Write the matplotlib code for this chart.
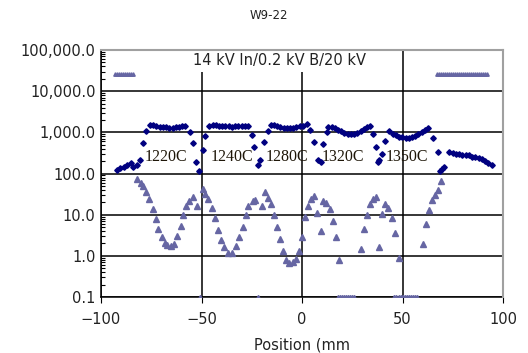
import matplotlib
matplotlib.use("Agg")
import matplotlib.pyplot as plt
from matplotlib.ticker import FixedLocator, FuncFormatter, LogLocator, NullFormatter

# navy series (diamonds)
x_navy = [-91.9, -90.5, -88.6, -87.2, -85.2, -83.9, -82.2, -80.6, -79.0, -77.6,
          -75.6, -74.0, -72.4, -70.8, -69.2, -67.6, -66.0, -64.4, -62.8, -61.2,
          -59.6, -58.0, -55.7, -54.4, -52.7, -51.1, -49.4, -48.3, -46.1, -44.5,
          -42.9, -41.3, -39.7, -38.1, -36.5, -34.9, -33.3, -31.7, -30.1, -28.5,
          -26.9, -25.0, -23.9, -21.7, -20.9, -18.9, -16.8, -15.6, -14.0, -12.4,
          -10.8, -9.2, -7.6, -6.0, -4.4, -2.8, -1.2, 0.4, 2.3, 4.0,
          6.0, 8.1, 9.3, 10.3, 12.3, 13.1, 14.7, 16.3, 17.9, 19.5,
          21.1, 22.7, 24.3, 25.9, 27.5, 29.1, 30.7, 32.3, 33.8, 35.2,
          36.8, 38.0, 38.5, 39.6, 41.3, 43.5, 45.1, 46.7, 48.3, 49.9,
          51.5, 53.1, 54.7, 56.3, 57.9, 59.5, 61.1, 62.7, 65.3, 67.8,
          68.7, 69.5, 70.8, 73.3, 75.0, 76.6, 78.2, 79.8, 81.4, 83.0,
          84.6, 86.2, 87.8, 89.4, 91.0, 92.6, 94.4]
y_navy = [122, 135, 148, 162, 182, 148, 162, 214, 562, 1050,
          1520, 1470, 1420, 1380, 1350, 1320, 1300, 1310, 1330, 1360,
          1400, 1450, 1000, 550, 195, 118, 364, 810, 1450, 1520,
          1470, 1430, 1410, 1400, 1390, 1380, 1390, 1400, 1410, 1430,
          1400, 865, 436, 160, 215, 590, 1100, 1520, 1470, 1400,
          1340, 1300, 1270, 1250, 1270, 1320, 1390, 1460, 1580, 1150,
          580, 215, 195, 510, 1000, 1380, 1320, 1250, 1150, 1050,
          980, 930, 910, 930, 990, 1080, 1200, 1330, 1450, 910,
          445, 190, 215, 300, 625, 1100, 920, 840, 790, 750,
          720, 730, 760, 820, 900, 1000, 1150, 1260, 720, 330,
          112, 126, 148, 325, 315, 305, 295, 280, 285, 275,
          255, 245, 235, 220, 200, 180, 162]

# purple series (triangles)
x_tri = [-82.2, -80.2, -79.0, -77.6, -75.9, -74.3, -72.6, -71.5, -69.8, -68.2,
         -67.3, -65.3, -63.7, -62.0, -60.4, -59.0, -57.7, -56.1, -54.1, -52.4,
         -49.4, -48.3, -46.6, -45.0, -43.3, -41.6, -40.4, -38.8, -36.6, -34.9,
         -32.8, -31.2, -29.5, -27.9, -26.7, -24.5, -23.4, -20.0, -18.4, -17.1,
         -15.6, -13.9, -12.3, -10.9, -9.6, -8.0, -6.3, -4.6, -3.1, -1.6,
         -0.1, 1.5, 3.1, 4.3, 6.0, 7.6, 9.3, 10.6, 11.9, 13.9,
         15.3, 16.9, 18.6, 29.2, 30.8, 32.5, 33.8, 35.2, 36.8, 38.3,
         39.6, 41.3, 42.9, 44.6, 46.3, 48.0, 60.0, 61.7, 63.0, 64.5,
         66.2, 67.8, 69.2]
y_tri = [72, 58, 50, 36, 24, 14, 7.7, 4.5, 2.85, 2.0,
         1.85, 1.78, 1.9, 3.0, 5.3, 10, 16, 22, 27, 16.5,
         42, 32, 24, 14.5, 8.5, 4.3, 2.4, 1.6, 1.2, 1.2,
         1.7, 2.8, 5.1, 10, 16, 21, 23, 16, 35, 25,
         18, 10, 5.0, 2.6, 1.3, 0.8, 0.66, 0.69, 0.85, 1.3,
         2.8, 8.9, 16, 24, 29, 11, 4.1, 22, 19, 13.5,
         7.1, 2.8, 0.79, 1.45, 4.5, 10, 18, 24, 27, 1.6,
         10.2, 18, 14.5, 8.5, 3.5, 0.87, 1.9, 5.9, 13.3, 23,
         30, 39, 67]

# saturated readings at the top and bottom of the scale
x_top = [-93, -92, -91, -90, -89, -88, -87, -86, -85, -84,
         67, 68, 69, 70, 71, 72, 73, 74, 75, 76, 77, 78, 79,
         80, 81, 82, 83, 84, 85, 86, 87, 88, 89, 90, 91, 92]
y_top = [26000, 26000, 26000, 26000, 26000, 26000, 26000, 26000, 26000, 26000,
         26000, 26000, 26000, 26000, 26000, 26000, 26000, 26000, 26000, 26000,
         26000, 26000, 26000, 26000, 26000, 26000, 26000, 26000, 26000, 26000,
         26000, 26000, 26000, 26000, 26000, 26000]
x_bot = [-50.7, -21.7, 18, 19, 20, 21, 22, 23, 24, 25, 26,
         46, 47, 48, 49, 50, 51, 52, 53, 54, 55, 56, 57]
y_bot = [0.1] * len(x_bot)

temp_labels = ["1220C", "1240C", "1280C", "1320C", "1350C"]
temp_x = [-67.7, -35.0, -7.4, 20.4, 52.0]
temp_y = [245, 245, 245, 245, 245]

y_ticks = [0.1, 1, 10, 100, 1000, 10000, 100000]

navy = "#000080"
purple = "#6666a3"

fig = plt.figure(figsize=(5.28, 3.53), dpi=100)
ax = fig.add_axes([0.1913, 0.1586, 0.7614, 0.6997])

ax.plot(x_tri, y_tri, linestyle="none", marker="^", markersize=4.5,
        color=purple, zorder=3)
ax.plot(x_top, y_top, linestyle="none", marker="^", markersize=2.5,
        color=purple, zorder=3)
ax.plot(x_bot, y_bot, linestyle="none", marker="^", markersize=3,
        color=purple, zorder=3)
ax.plot(x_navy, y_navy, linestyle="none", marker="D", markersize=2.8,
        color=navy, zorder=4)

for lab, tx, ty in zip(temp_labels, temp_x, temp_y):
    ax.text(tx, ty, lab, family="Liberation Serif", fontsize=11.5,
            color="#1e1608", ha="center", va="center", zorder=5)

# white box hides the grid lines behind the caption but stays under the spines
ax.text(-11.4, 55000, "14 kV In/0.2 kV B/20 kV", fontsize=10.5, color="#222222",
        ha="center", va="center", zorder=2,
        bbox=dict(facecolor="white", edgecolor="none", pad=3))

ax.set_yscale("log")
ax.set_xlim(-100, 100)
ax.set_ylim(0.1, 100000)
ax.set_xticks([-100, -50, 0, 50, 100])
ax.yaxis.set_major_locator(FixedLocator(y_ticks))
ax.yaxis.set_minor_locator(LogLocator(base=10, subs=range(2, 10)))
ax.yaxis.set_minor_formatter(NullFormatter())
ax.yaxis.set_major_formatter(FuncFormatter(lambda v, p: f"{v:,.1f}"))

ax.grid(True, which="major", color="black", linewidth=1.1, zorder=1)
ax.set_axisbelow(True)
ax.tick_params(axis="y", which="major", length=0, labelsize=10.5, labelcolor="#222222", pad=4)
ax.tick_params(axis="y", which="minor", direction="in", length=3, width=0.8)
ax.tick_params(axis="x", which="major", direction="out", length=4, labelsize=10.5,
               labelcolor="#222222", pad=7)

for side in ["top", "right"]:
    ax.spines[side].set_color("#a0a0a0")
    ax.spines[side].set_linewidth(1.5)
    ax.spines[side].set_zorder(6)
for side in ["left", "bottom"]:
    ax.spines[side].set_color("black")
    ax.spines[side].set_linewidth(1.1)

ax.set_xlabel("Position (mm", fontsize=10.5, color="#222222", labelpad=7)
fig.text(0.51, 0.955, "W9-22", fontsize=8.5, color="#222222", ha="center", va="center")

fig.savefig("out.png", dpi=100)
